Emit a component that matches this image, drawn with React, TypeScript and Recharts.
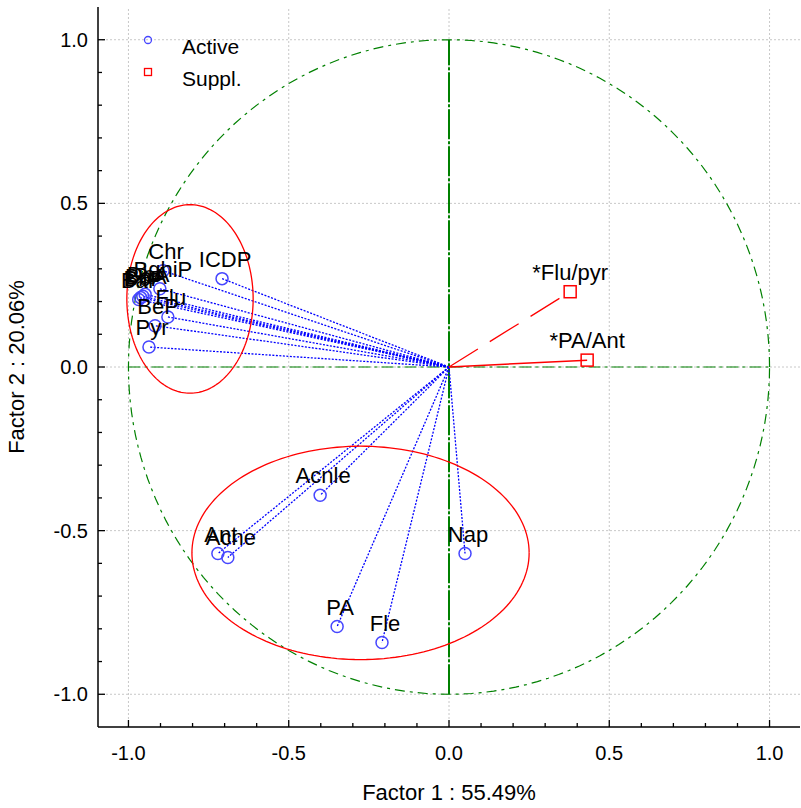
import React from 'react';
import { ScatterChart, Scatter, XAxis, YAxis, ReferenceLine, Legend } from 'recharts';

// active variables (factor coordinates)
const activeNames = ['Chr', 'BghiP', 'ICDP', 'DbA', 'BaA', 'BbF', 'BaP', 'Flu', 'BeP', 'Pyr', 'Acnle', 'Ant', 'Acne', 'Nap', 'PA', 'Fle'];
const activeF1 = [-0.892, -0.902, -0.708, -0.948, -0.955, -0.962, -0.968, -0.877, -0.917, -0.936, -0.402, -0.721, -0.69, 0.05, -0.349, -0.209];
const activeF2 = [0.294, 0.239, 0.27, 0.222, 0.216, 0.212, 0.206, 0.153, 0.126, 0.061, -0.392, -0.57, -0.582, -0.57, -0.793, -0.842];

// supplementary variables
const supplNames = ['*Flu/pyr', '*PA/Ant'];
const supplF1 = [0.378, 0.431];
const supplF2 = [0.23, 0.021];

const xTicks = [-1.0, -0.9, -0.8, -0.7, -0.6, -0.5, -0.4, -0.3, -0.2, -0.1, 0.0, 0.1, 0.2, 0.3, 0.4, 0.5, 0.6, 0.7, 0.8, 0.9, 1.0];
const yTicks = [-1.0, -0.9, -0.8, -0.7, -0.6, -0.5, -0.4, -0.3, -0.2, -0.1, 0.0, 0.1, 0.2, 0.3, 0.4, 0.5, 0.6, 0.7, 0.8, 0.9, 1.0];
const majorTicks = [-1.0, -0.5, 0.0, 0.5, 1.0];

// cluster ellipses: [centre f1, centre f2, radius f1, radius f2]
const upperCluster = [-0.808, 0.208, 0.197, 0.288];
const lowerCluster = [-0.276, -0.568, 0.526, 0.326];

const FONT = 'Liberation Sans, Arial, sans-serif';

const activeData = activeNames.map((name, i) => ({ name, x: activeF1[i], y: activeF2[i] }));
const supplData = supplNames.map((name, i) => ({ name, x: supplF1[i], y: supplF2[i] }));

const outline = ([cx, cy, rx, ry]: number[]) =>
  Array.from({ length: 181 }, (_, i) => {
    const t = (i / 180) * Math.PI * 2;
    return { x: cx + rx * Math.cos(t), y: cy + ry * Math.sin(t) };
  });

const unitCircle = outline([0, 0, 1, 1]);

const isMajor = (v: number) => Math.abs(v * 2 - Math.round(v * 2)) < 1e-6;

const BottomTick = (p: any) => {
  const v = p.payload.value;
  const major = isMajor(v);
  return (
    <g>
      <line x1={p.x} y1={p.y} x2={p.x} y2={p.y - (major ? 7 : 4)} stroke="#000" strokeWidth={1.3} />
      {major && (
        <text x={p.x} y={p.y + 33} textAnchor="middle" fontSize={20} fontFamily={FONT} fill="#000">
          {v.toFixed(1)}
        </text>
      )}
    </g>
  );
};

const LeftTick = (p: any) => {
  const v = p.payload.value;
  const major = isMajor(v);
  return (
    <g>
      <line x1={p.x} y1={p.y} x2={p.x + (major ? 7 : 4)} y2={p.y} stroke="#000" strokeWidth={1.3} />
      {major && (
        <text x={p.x - 10} y={p.y + 7} textAnchor="end" fontSize={20} fontFamily={FONT} fill="#000">
          {v.toFixed(1)}
        </text>
      )}
    </g>
  );
};

const TopTick = (p: any) => (
  <line x1={p.x} y1={p.y} x2={p.x} y2={p.y + (isMajor(p.payload.value) ? 7 : 4)} stroke="#000" strokeWidth={1.3} />
);

const RightTick = (p: any) => (
  <line x1={p.x} y1={p.y} x2={p.x - (isMajor(p.payload.value) ? 7 : 4)} y2={p.y} stroke="#000" strokeWidth={1.3} />
);

const ActiveShape = (p: any) => (
  <g>
    <circle cx={p.cx} cy={p.cy} r={6} fill="none" stroke="#4646ff" strokeWidth={1.5} />
    <text x={p.cx + 3} y={p.cy - 12} textAnchor="middle" fontSize={22} fontFamily={FONT} fill="#000">
      {p.payload.name}
    </text>
  </g>
);

const SupplShape = (p: any) => (
  <g>
    <rect x={p.cx - 6} y={p.cy - 6} width={12} height={12} fill="none" stroke="#ff0000" strokeWidth={1.5} />
    <text x={p.cx} y={p.cy - 12} textAnchor="middle" fontSize={22} fontFamily={FONT} fill="#000">
      {p.payload.name}
    </text>
  </g>
);

const NoShape = () => <g />;

const LegendBox = () => (
  <svg width={150} height={72} style={{ display: 'block' }}>
    <circle cx={18} cy={18} r={3.5} fill="none" stroke="#4646ff" strokeWidth={1.3} />
    <text x={52} y={32} fontSize={21} fontFamily={FONT} fill="#000">Active</text>
    <rect x={14.5} y={46.5} width={7} height={7} fill="none" stroke="#ff0000" strokeWidth={1.3} />
    <text x={52} y={64} fontSize={21} fontFamily={FONT} fill="#000">Suppl.</text>
  </svg>
);

export default function App() {
  return (
    <div style={{ position: 'absolute', left: 0, top: 0, width: 801, height: 808, background: '#fff' }}>
      <ScatterChart width={801} height={808} margin={{ top: 7, right: 1, bottom: 0, left: 0 }}>
        <XAxis
          type="number"
          dataKey="x"
          domain={[-1.095, 1.095]}
          allowDataOverflow
          ticks={xTicks}
          interval={0}
          tickSize={0}
          tickMargin={0}
          tickLine={false}
          tick={BottomTick}
          height={81}
          axisLine={{ stroke: '#000', strokeWidth: 1.5 }}
          label={{ value: 'Factor 1 : 55.49%', position: 'insideBottom', offset: 8, fontSize: 22, fontFamily: FONT, fill: '#000' }}
        />
        <XAxis
          xAxisId="top"
          orientation="top"
          type="number"
          domain={[-1.095, 1.095]}
          allowDataOverflow
          ticks={xTicks}
          interval={0}
          tickSize={0}
          tickMargin={0}
          tickLine={false}
          tick={TopTick}
          height={0}
          axisLine={{ stroke: '#000', strokeWidth: 1.5 }}
        />
        <YAxis
          type="number"
          dataKey="y"
          domain={[-1.1, 1.1]}
          allowDataOverflow
          ticks={yTicks}
          interval={0}
          tickSize={0}
          tickMargin={0}
          tickLine={false}
          tick={LeftTick}
          width={98}
          axisLine={{ stroke: '#000', strokeWidth: 1.5 }}
          label={{ value: 'Factor 2 : 20.06%', angle: -90, position: 'insideLeft', offset: 16, fontSize: 22, fontFamily: FONT, fill: '#000', style: { textAnchor: 'middle' } }}
        />
        <YAxis
          yAxisId="right"
          orientation="right"
          type="number"
          domain={[-1.1, 1.1]}
          allowDataOverflow
          ticks={yTicks}
          interval={0}
          tickSize={0}
          tickMargin={0}
          tickLine={false}
          tick={RightTick}
          width={0}
          axisLine={{ stroke: '#000', strokeWidth: 1.5 }}
        />

        {majorTicks.map((v) => (
          <ReferenceLine key={`gx${v}`} x={v} stroke="#c8c8c8" strokeDasharray="2 2" />
        ))}
        {majorTicks.map((v) => (
          <ReferenceLine key={`gy${v}`} y={v} stroke="#c8c8c8" strokeDasharray="2 2" />
        ))}

        <ReferenceLine segment={[{ x: -1, y: 0 }, { x: 1, y: 0 }]} stroke="#008000" strokeWidth={1.2} strokeDasharray="12 4 3 4" />
        <ReferenceLine segment={[{ x: 0, y: -1 }, { x: 0, y: 1 }]} stroke="#008000" strokeWidth={2} strokeDasharray="30 2 3 2" />

        <Scatter
          data={unitCircle}
          shape={NoShape}
          line={{ stroke: '#008000', strokeWidth: 1.2, strokeDasharray: '10 5 3 5' }}
          isAnimationActive={false}
          legendType="none"
        />
        <Scatter data={outline(upperCluster)} shape={NoShape} line={{ stroke: '#ff0000', strokeWidth: 1.3 }} isAnimationActive={false} legendType="none" />
        <Scatter data={outline(lowerCluster)} shape={NoShape} line={{ stroke: '#ff0000', strokeWidth: 1.3 }} isAnimationActive={false} legendType="none" />

        {activeData.map((d) => (
          <ReferenceLine
            key={`a${d.name}`}
            segment={[{ x: 0, y: 0 }, { x: d.x, y: d.y }]}
            stroke="#0000ff"
            strokeWidth={1.3}
            strokeDasharray="2 1.5"
          />
        ))}
        <ReferenceLine segment={[{ x: 0, y: 0 }, { x: supplData[0].x, y: supplData[0].y }]} stroke="#ff0000" strokeWidth={1.3} strokeDasharray="34 14" />
        <ReferenceLine segment={[{ x: 0, y: 0 }, { x: supplData[1].x, y: supplData[1].y }]} stroke="#ff0000" strokeWidth={1.5} />

        <Scatter name="Active" data={activeData} shape={ActiveShape} isAnimationActive={false} />
        <Scatter name="Suppl." data={supplData} shape={SupplShape} isAnimationActive={false} />

        <Legend
          layout="vertical"
          verticalAlign="middle"
          align="center"
          wrapperStyle={{ top: 22, left: 130, width: 150, height: 72 }}
          content={LegendBox}
        />
      </ScatterChart>
    </div>
  );
}
